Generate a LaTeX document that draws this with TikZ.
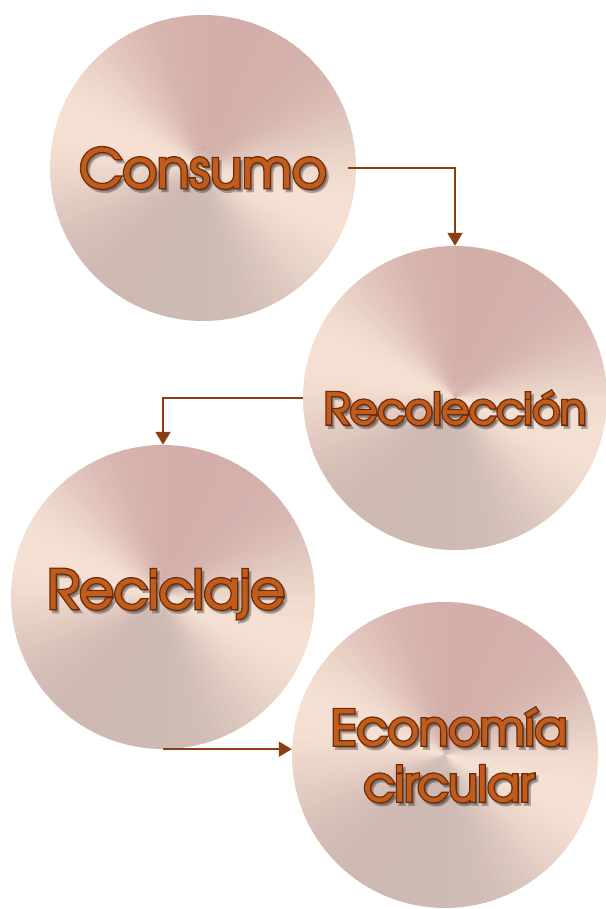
\documentclass[tikz,border=0pt]{standalone}
\usepackage{fontspec}
\setmainfont{texgyreadventor-regular.otf}
\usetikzlibrary{arrows.meta,calc}
\definecolor{arrowc}{RGB}{140,60,15}
\definecolor{txtfill}{RGB}{192,92,28}
\definecolor{txtline}{RGB}{110,42,8}
\definecolor{lightc}{RGB}{245,225,211}
\definecolor{pinkc}{RGB}{212,175,170}
\definecolor{grayc}{RGB}{205,186,179}
\tikzset{
  disk/.style={circle, minimum size=#1, inner sep=0pt, draw=none},
  flow/.style={draw=arrowc, line width=2pt, -{Triangle[width=15pt,length=13pt]}},
  lbl/.style={align=center, inner sep=0pt}
}
% text render mode 2 (fill + stroke) with a given stroke width and colour
\newcommand\trmode[2]{\special{pdf:literal direct 2 Tr #1 w #2 RG}}
\newcommand\troff{\special{pdf:literal direct 0 Tr 0.3985 w}}
\newcommand\metaldisk[2]{%
  \foreach \a in {0,3,...,357}{%
    \pgfmathsetmacro\p{100*((0.5+0.5*cos(2*(\a-160)))^2)}%
    \pgfmathsetmacro\q{50+50*sin(\a)}%
    \colorlet{basec}{pinkc!\q!grayc}%
    \colorlet{wc}{lightc!\p!basec}%
    \fill[wc] (#1) -- ++(\a:#2) arc[start angle=\a, end angle=\a+3.6, radius=#2] -- cycle;
  }}
\newcommand\fancytext[6]{% name, position, size, skip, line1, line2
  \node[lbl, font=\fontsize{#3}{#4}\selectfont, text=black, opacity=0.28] (#1-shadow) at ($(#2)+(2.5,-3)$)
     {\trmode{3.6}{0 0 0}#5\troff\ifx\relax#6\relax\else\\\trmode{3.6}{0 0 0}#6\troff\fi};
  \node[lbl, font=\fontsize{#3}{#4}\selectfont, text=txtline] (#1-edge) at (#2)
     {\trmode{3.6}{0.43 0.165 0.03}#5\troff\ifx\relax#6\relax\else\\\trmode{3.6}{0.43 0.165 0.03}#6\troff\fi};
  \node[lbl, font=\fontsize{#3}{#4}\selectfont, text=txtfill] (#1) at (#2)
     {\trmode{1.0}{0.753 0.36 0.11}#5\troff\ifx\relax#6\relax\else\\\trmode{1.0}{0.753 0.36 0.11}#6\troff\fi};
}
\begin{document}
\begin{tikzpicture}[x=1pt,y=1pt]
\useasboundingbox (0,0) rectangle (605,909);
\node[disk=306pt] (cons) at (203,741) {};
\node[disk=304pt] (rec) at (455,511) {};
\node[disk=304pt] (recl) at (163,312) {};
\node[disk=306pt] (eco) at (445,154) {};
\metaldisk{cons.center}{153}
\metaldisk{rec.center}{152}
\metaldisk{recl.center}{152}
\metaldisk{eco.center}{153}
\coordinate (c1) at (348,741);
\draw[flow] (c1) -| (rec.north);
\draw[flow] (rec.west) -| (recl.north);
\draw[flow] (recl.south) -- (eco.west |- recl.south);
\fancytext{t1}{203,741}{53}{62}{Consumo}{}
\fancytext{t2}{455,501}{42.5}{52}{Recolección}{}
\fancytext{t3}{166,315}{53}{63}{Reciclaje}{}
\fancytext{t4}{449,154}{48}{56}{Economía}{circular}
\end{tikzpicture}
\end{document}
